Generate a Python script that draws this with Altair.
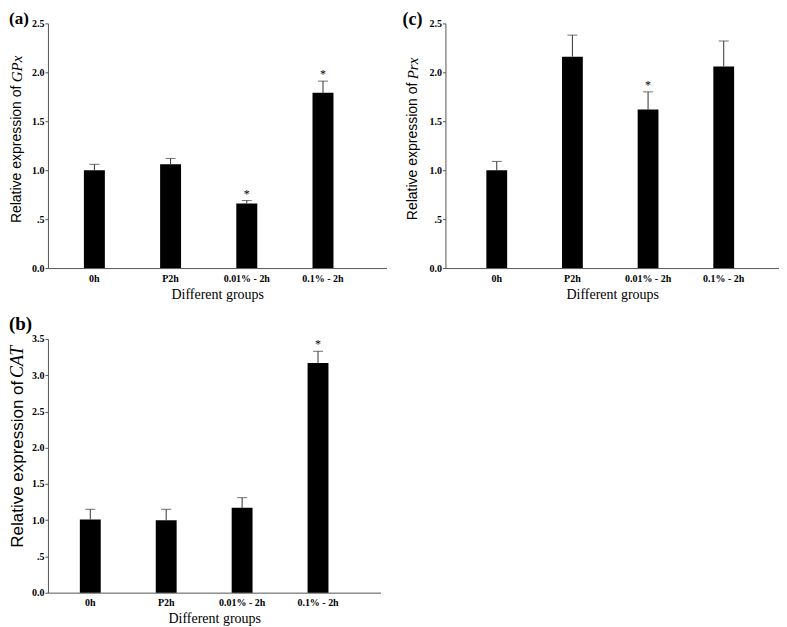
import altair as alt
import pandas as pd

groups = ["0h", "P2h", "0.01% - 2h", "0.1% - 2h"]

gpx_mean = [1.00, 1.06, 0.66, 1.79]
gpx_upper = [1.06, 1.12, 0.69, 1.91]
gpx_sig = ["", "", "*", "*"]

prx_mean = [1.00, 2.16, 1.62, 2.06]
prx_upper = [1.09, 2.38, 1.80, 2.32]
prx_sig = ["", "", "*", ""]

cat_mean = [1.01, 1.00, 1.17, 3.17]
cat_upper = [1.15, 1.15, 1.31, 3.33]
cat_sig = ["", "", "", "*"]

gpx_ticks = [0, 0.5, 1.0, 1.5, 2.0, 2.5]
prx_ticks = [0, 0.5, 1.0, 1.5, 2.0, 2.5]
cat_ticks = [0, 0.5, 1.0, 1.5, 2.0, 2.5, 3.0, 3.5]

SERIF = "Liberation Serif"
SANS = "Liberation Sans"
AXC = "#555555"


def panel(mean, upper, sig, ticks, ymax, w, h, po, align, letter, gene,
          tfont, gfont, t_bottom, t_split, t_x, lab_x, lab_y, lab_size):
    df = pd.DataFrame({"group": groups, "mean": mean, "upper": upper, "sig": sig})
    one = pd.DataFrame({"k": [0]})
    xscale = alt.Scale(paddingInner=0.725, paddingOuter=po, align=align)
    xenc = alt.X("group:N", sort=groups, scale=xscale,
                 axis=alt.Axis(title="Different groups", ticks=False, labelAngle=0,
                               labelPadding=5, titlePadding=4, domainColor=AXC,
                               labelFont=SERIF, labelFontSize=10, labelFontWeight="bold",
                               labelColor="#000", titleFont=SERIF, titleFontSize=14,
                               titleFontWeight="normal", titleColor="#000"))
    yscale = alt.Scale(domain=[0, ymax], nice=False, zero=True)
    yenc = alt.Y("mean:Q", scale=yscale,
                 axis=alt.Axis(title=None, values=ticks, tickCount=len(ticks) + 2,
                               grid=False, tickSize=3,
                               tickColor=AXC, domainColor=AXC, labelPadding=1,
                               labelOverlap=False,
                               labelFont=SERIF, labelFontSize=10, labelFontWeight="bold",
                               labelColor="#000",
                               labelExpr="datum.value == 0.5 ? '.5' : format(datum.value, '.1f')"))
    base = alt.Chart(df)
    bars = base.mark_bar(color="#000").encode(x=xenc, y=yenc)
    whisk = base.mark_rule(color="#333", strokeWidth=1).encode(
        x=alt.X("group:N", sort=groups), y="mean:Q", y2="upper:Q")
    cap = base.mark_tick(color="#333", thickness=1, size=10, orient="horizontal").encode(
        x=alt.X("group:N", sort=groups), y="upper:Q")
    star = base.mark_text(font=SERIF, fontSize=12, baseline="middle", dy=-7, color="#000").encode(
        x=alt.X("group:N", sort=groups), y="upper:Q", text="sig:N")
    t1 = alt.Chart(one).mark_text(angle=270, align="left", baseline="middle", font=SANS,
                                  fontSize=tfont, color="#000").encode(
        x=alt.value(t_x), y=alt.value(t_bottom), text=alt.value("Relative expression of"))
    t2 = alt.Chart(one).mark_text(angle=270, align="left", baseline="middle", font=SERIF,
                                  fontStyle="italic", fontSize=gfont, color="#000").encode(
        x=alt.value(t_x), y=alt.value(t_split), text=alt.value(gene))
    lab = alt.Chart(one).mark_text(align="left", baseline="top", font=SERIF, fontWeight="bold",
                                   fontSize=lab_size, color="#000").encode(
        x=alt.value(lab_x), y=alt.value(lab_y), text=alt.value(letter))
    return alt.layer(bars, whisk, cap, star, t1, t2, lab).properties(width=w, height=h)


pa = panel(gpx_mean, gpx_upper, gpx_sig, gpx_ticks, 2.5, 339, 245, 0.584, 0.404, "(a)", "GPx",
           14, 15, 200, 59, -31, -39, -12, 17)
pc = panel(prx_mean, prx_upper, prx_sig, prx_ticks, 2.5, 334, 245, 0.567, 0.477, "(c)", "Prx",
           14, 15, 197, 56, -32, -43, -12, 18)
pb = panel(cat_mean, cat_upper, cat_sig, cat_ticks, 3.5, 333, 254, 0.553, 0.38, "(b)", "CAT",
           17, 18, 209, 39, -30, -39, -24, 19)

chart = alt.concat(pa, pc, pb, columns=2, spacing={"row": 71, "column": 59},
                   bounds="flush", align="each").properties(
    padding={"left": 0, "top": 2, "right": 0, "bottom": 0}).configure_view(
    stroke=None).configure_axis(grid=False)

chart.save("out.html", embed_options={"renderer": "svg", "actions": False})
